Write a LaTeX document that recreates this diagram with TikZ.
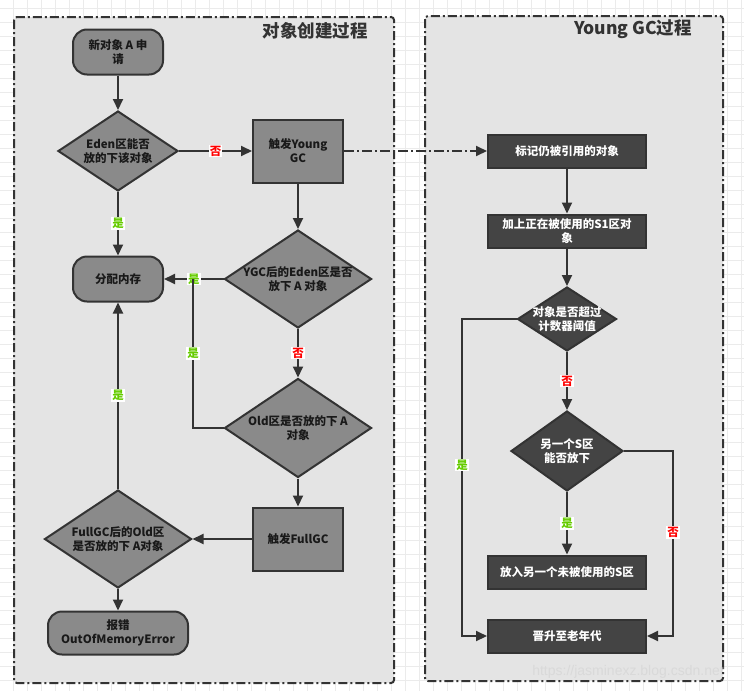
\documentclass[tikz,border=0pt]{standalone}
\usepackage{fontspec}
\setmainfont{Noto Sans CJK SC}
\newfontfamily\wmfont{Liberation Sans}
\usetikzlibrary{shapes.geometric,arrows.meta}
\definecolor{linec}{HTML}{333333}
\definecolor{panelc}{HTML}{E4E4E4}
\definecolor{lfill}{HTML}{8A8A8A}
\definecolor{dfill}{HTML}{444444}
\definecolor{yesc}{HTML}{66CC00}
\definecolor{noc}{HTML}{FF0000}
\definecolor{gridc}{HTML}{EBEBEB}
\begin{document}
\begin{tikzpicture}[x=1pt,y=-1pt,
  panelbox/.style={draw=linec, fill=panelc, line width=2pt, dash pattern=on 9pt off 3pt on 2pt off 3pt, rounded corners=3pt},
  titletext/.style={text=linec, font=\fontsize{17.5}{20}\selectfont\bfseries, inner sep=0pt},
  base/.style={draw=linec, line width=2pt, font=\fontsize{11.5}{14}\selectfont\bfseries, align=center, inner sep=0pt},
  lround/.style={base, fill=lfill, text=black!90, rounded corners=14pt, minimum width=90pt, minimum height=45pt},
  lrect/.style={base, fill=lfill, text=black!90, minimum width=90pt, minimum height=63pt},
  dtxt/.style={font=\fontsize{11.5}{14}\selectfont\bfseries, align=center, inner sep=0pt},
  ldia/.style={base, fill=lfill, diamond},
  drect/.style={base, fill=dfill, text=white, minimum width=158pt, minimum height=33pt},
  ddia/.style={base, fill=dfill, diamond},
  conn/.style={draw=linec, line width=2pt, -{Triangle[length=11pt,width=10pt]}},
  yes/.style={fill=white, text=yesc, font=\fontsize{11.5}{12}\selectfont\bfseries, inner sep=1pt},
  no/.style={fill=white, text=noc, font=\fontsize{11.5}{12}\selectfont\bfseries, inner sep=1pt}
]
\useasboundingbox (0,0) rectangle (744,691);
\fill[white] (0,0) rectangle (744,691);
\foreach \x in {13,27,...,741} \draw[gridc, line width=1pt] (\x,0) -- (\x,691);
\foreach \y in {8,22,...,690} \draw[gridc, line width=1pt] (0,\y) -- (744,\y);

% panels
\draw[panelbox] (14,17) rectangle (394,683);
\draw[panelbox] (425,16) rectangle (723,681);
\node[titletext] (t1) at (315,31) {对象创建过程};
\node[titletext] (t2) at (633,29) {Young GC过程};

% left flow
\node[lround] (start) at (118,52) {新对象 A 申\\请};
\node[ldia, minimum width=120pt, minimum height=80pt,
  label={[dtxt,text=black!90]center:Eden区能否\\放的下该对象}] (eden) at (118,151) {};
\node[lrect] (ygc) at (298,151) {触发Young\\GC};
\node[ldia, minimum width=147pt, minimum height=98pt,
  label={[dtxt,text=black!90]center:YGC后的Eden区是否\\放下 A 对象}] (ygcd) at (298,279) {};
\node[lround] (alloc) at (118,279) {分配内存};
\node[ldia, minimum width=147pt, minimum height=99pt,
  label={[dtxt,text=black!90]center:Old区是否放的下 A\\对象}] (oldd) at (298,428) {};
\node[lrect] (fgc) at (298,539) {触发FullGC};
\node[ldia, minimum width=147pt, minimum height=98pt,
  label={[dtxt,text=black!90]center:FullGC后的Old区\\是否放的下 A对象}] (fgcd) at (118,539) {};
\node[lround, minimum width=140pt, minimum height=43pt] (oom) at (118,633) {报错\\OutOfMemoryError};

\coordinate (jn) at (193,279);
\draw[conn] (start) -- (eden);
\draw[conn] (eden) -- node[no] {否} (ygc);
\draw[conn] (eden) -- node[yes] {是} (alloc);
\draw[conn] (ygc) -- (ygcd);
\draw[conn] (ygcd.west) -- node[yes] {是} (alloc.east);
\draw[conn] (ygcd) -- node[no] {否} (oldd);
\draw[line width=2pt, draw=linec] (oldd.west) -| node[yes, pos=0.75] {是} (jn);
\draw[conn] (oldd) -- (fgc);
\draw[conn] (fgc) -- (fgcd);
\draw[conn] (fgcd) -- node[yes] {是} (alloc);
\draw[conn] (fgcd) -- (oom);

% right flow
\node[drect] (mark) at (567,151) {标记仍被引用的对象};
\node[drect] (adds) at (567,231) {加上正在被使用的S1区对\\象};
\node[ddia, minimum width=99pt, minimum height=64pt,
  label={[dtxt,text=white]center:对象是否超过\\计数器阈值}] (d1) at (567,319) {};
\node[ddia, minimum width=112pt, minimum height=80pt,
  label={[dtxt,text=white]center:另一个S区\\能否放下}] (d2) at (567,451) {};
\node[drect] (puts) at (567,572) {放入另一个未被使用的S区};
\node[drect] (prom) at (567,636) {晋升至老年代};

\draw[conn, dash pattern=on 10pt off 3pt on 2pt off 3pt] (ygc) -- (mark);
\draw[conn] (mark) -- (adds);
\draw[conn] (adds) -- (d1);
\draw[conn] (d1) -- node[no] {否} (d2);
\draw[conn] (d2) -- node[yes] {是} (puts);
\coordinate (c1) at (462,319);
\coordinate (c2) at (673,451);
\draw[conn] (d1.west) -- (c1) |- node[yes, pos=0.23] {是} (prom.west);
\draw[conn] (d2.east) -- (c2) |- node[no, pos=0.22] {否} (prom.east);

\node[text=gray!30, font=\wmfont\fontsize{14}{14}\selectfont, inner sep=0pt] (wm) at (628,672) {https://jasminexz.blog.csdn.net};
\end{tikzpicture}
\end{document}
